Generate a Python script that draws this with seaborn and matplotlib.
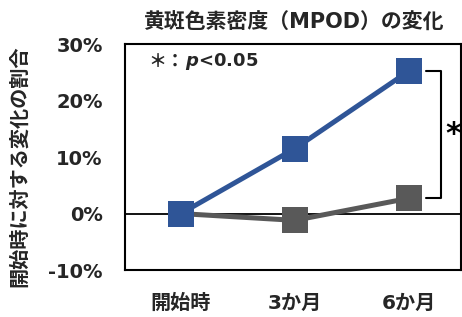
import pandas as pd
import matplotlib
matplotlib.use('Agg')
import matplotlib.pyplot as plt
import seaborn as sns

# Data (change from baseline, %)
timepoints = ['開始時', '3か月', '6か月']
group_names = ['対照群', '摂取群']
control_vals = [0.0, -1.2, 2.7]
active_vals = [0.0, 11.5, 25.2]
y_ticks = [-10, 0, 10, 20, 30]

sns.set_theme(style='white')
plt.rcParams['font.family'] = ['DejaVu Sans', 'Noto Sans CJK JP']
plt.rcParams['mathtext.fontset'] = 'dejavusans'

df = pd.DataFrame({
    'time': timepoints * 2,
    'group': [group_names[0]] * 3 + [group_names[1]] * 3,
    'change': control_vals + active_vals,
})

fig = plt.figure(figsize=(4.62, 3.17), dpi=100)
ax = fig.add_axes([0.2706, 0.148, 0.7274, 0.713])

sns.lineplot(data=df, x='time', y='change', hue='group', hue_order=group_names,
             palette={group_names[0]: '#595959', group_names[1]: '#2F5597'},
             style='group', markers={group_names[0]: 's', group_names[1]: 's'},
             dashes=False, linewidth=3.6, markersize=19, markeredgewidth=0,
             legend=False, ax=ax)

ax.axhline(0, color='black', linewidth=1.3, zorder=1)
ax.set_xlim(-0.49, 2.46)
ax.set_ylim(-10, 30)
ax.set_yticks(y_ticks)
ax.set_yticklabels([f'{v}%' for v in y_ticks])
ax.tick_params(axis='y', length=0, pad=16, labelsize=14)
ax.tick_params(axis='x', length=0, pad=17, labelsize=14.5)
for lbl in ax.get_xticklabels() + ax.get_yticklabels():
    lbl.set_fontweight('bold')
    lbl.set_color('#262626')
for sp in ax.spines.values():
    sp.set_color('black')
    sp.set_linewidth(1.5)

ax.set_xlabel('')
ax.set_ylabel('開始時に対する変化の割合', fontsize=14.5, fontweight='bold', color='#262626')
ax.yaxis.set_label_coords(-0.285, 0.46)
ax.set_title('黄斑色素密度（MPOD）の変化', fontsize=15, fontweight='bold', pad=11, color='#262626')

# significance note and bracket
note = ax.text(0.07, 0.925, '＊：', transform=ax.transAxes, fontsize=13,
               family='Noto Sans CJK JP', fontweight='bold', va='center', ha='left', color='#262626')
ax.annotate(r'$\mathbfit{p}$<0.05', xy=(1, 0.5), xycoords=note, fontsize=13,
            fontweight='bold', va='center', ha='left', color='#262626')
bx0, bx1 = 2.15, 2.28
ax.plot([bx0, bx1, bx1, bx0], [active_vals[2], active_vals[2], control_vals[2], control_vals[2]],
        color='black', linewidth=1.5, clip_on=False)
ax.text(2.39, (active_vals[2] + control_vals[2]) / 2, '*', fontsize=22, fontweight='bold',
        ha='center', va='center', color='black')

fig.savefig('out.png', dpi=100)
